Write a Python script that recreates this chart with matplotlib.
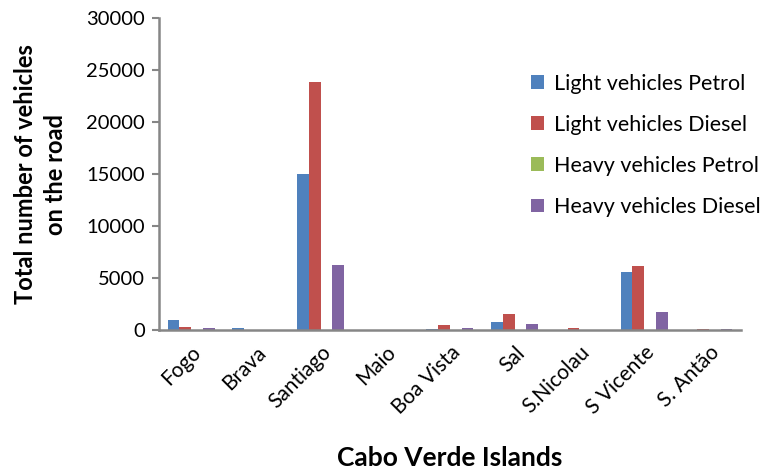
import numpy as np
import matplotlib
matplotlib.use("Agg")
import matplotlib.pyplot as plt

plt.rcParams["font.family"] = ["Lato", "DejaVu Sans"]

islands = ["Fogo", "Brava", "Santiago", "Maio", "Boa Vista", "Sal",
           "S.Nicolau", "S Vicente", "S. Antão"]
light_petrol = [1000, 180, 15050, 30, 80, 800, 40, 5600, 40]
light_diesel = [260, 20, 23850, 20, 460, 1500, 160, 6120, 130]
heavy_petrol = [10, 5, 30, 5, 10, 10, 5, 20, 5]
heavy_diesel = [150, 20, 6300, 20, 220, 560, 40, 1680, 50]

series = [
    ("Light vehicles Petrol", light_petrol, "#4F81BD"),
    ("Light vehicles Diesel", light_diesel, "#C0504D"),
    ("Heavy vehicles Petrol", heavy_petrol, "#9BBB59"),
    ("Heavy vehicles Diesel", heavy_diesel, "#8064A2"),
]

fig = plt.figure(figsize=(7.72, 4.70), dpi=100)
ax = fig.add_axes([0.2056, 0.298, 0.7544, 0.663])

x = np.arange(len(islands))
width = 1 / 5.5
for i, (name, vals, color) in enumerate(series):
    ax.bar(x - 1.5 * width + i * width, vals, width, color=color,
           label=name, edgecolor="none")

ax.set_xlim(-0.5, len(islands) - 0.5)
ax.set_ylim(0, 30000)
ax.set_yticks(range(0, 30001, 5000))
ax.set_xticks(x)
ax.set_xticklabels(islands, rotation=45, ha="right", va="top",
                   rotation_mode="anchor", fontsize=15)
ax.tick_params(axis="y", labelsize=14.5, length=5, width=1.5,
               color="#868686", pad=5)
ax.tick_params(axis="x", length=0, pad=9)

for side in ["top", "right"]:
    ax.spines[side].set_visible(False)
for side in ["left", "bottom"]:
    ax.spines[side].set_color("#868686")
    ax.spines[side].set_linewidth(1.8)

ax.set_ylabel("Total number of vehicles\non the road", fontsize=17,
              fontweight="bold", labelpad=14, linespacing=1.35)
ax.set_xlabel("Cabo Verde Islands", fontsize=19, fontweight="bold",
              labelpad=20)

ax.legend(loc="upper left", bbox_to_anchor=(0.624, 0.85), frameon=False,
          fontsize=15.5, handlelength=0.6, handleheight=0.6,
          handletextpad=0.5, labelspacing=0.98, borderaxespad=0)

fig.savefig("out.png", dpi=100)
